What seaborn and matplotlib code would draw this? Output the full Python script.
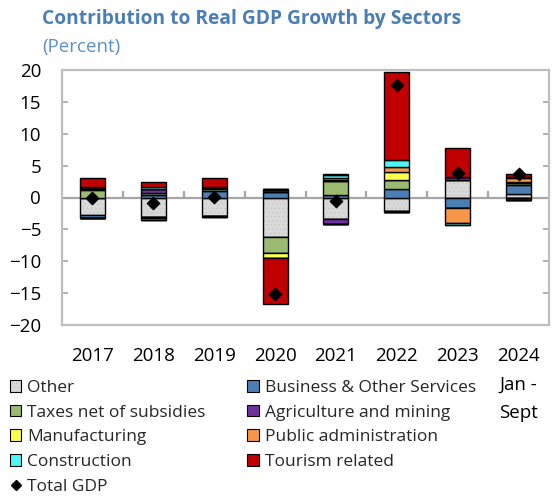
import numpy as np
import pandas as pd
import matplotlib
matplotlib.use("Agg")
import matplotlib.pyplot as plt
import matplotlib.patches as mpatches
import matplotlib.lines as mlines
import matplotlib.colors as mcolors
import seaborn as sns

years = ["2017", "2018", "2019", "2020", "2021", "2022", "2023", "2024"]
tick_labels = ["2017", "2018", "2019", "2020", "2021", "2022", "2023", "2024\nJan -\nSept"]

sectors = ["Other", "Business & Other Services", "Taxes net of subsidies",
           "Agriculture and mining", "Manufacturing", "Public administration",
           "Construction", "Tourism related"]

other    = [-2.7, -3.1, -2.9, -6.2, -3.4, -2.1, 2.7, 0.6]
business = [-0.5, 0.35, 1.0, 0.9, 0.4, 1.4, -1.7, 1.35]
taxes    = [1.25, 0.3, 0.4, -2.45, 2.2, 1.3, 0.0, 0.3]
agri     = [0.15, 0.75, 0.1, 0.35, -0.7, -0.1, 0.5, -0.35]
manuf    = [0.1, -0.15, 0.1, -0.8, 0.2, 1.3, 0.0, 0.2]
pubadm   = [0.0, -0.3, -0.1, 0.15, 0.3, 0.8, -2.3, 0.65]
constr   = [0.15, 0.2, 0.05, 0.0, 0.45, 1.05, -0.25, 0.05]
tourism  = [1.35, 0.8, 1.35, -7.2, 0.1, 13.8, 4.6, 0.6]
total_gdp = [-0.1, -0.9, 0.1, -15.2, -0.5, 17.6, 3.9, 3.7]

colors = ["#d9d9d9", "#4a7eb4", "#9bbb73", "#7030a0", "#ffff4d",
          "#f79646", "#4df5f5", "#c00000"]

series = [other, business, taxes, agri, manuf, pubadm, constr, tourism]

sns.set_theme(style="white")
plt.rcParams["font.family"] = ["Open Sans", "DejaVu Sans"]
plt.rcParams["hatch.linewidth"] = 0.4

fig = plt.figure(figsize=(5.52, 4.96), dpi=100)
ax = fig.add_axes([62 / 552, 1 - 325 / 496, (549 - 62) / 552, (325 - 70) / 496])

grid_gray = "#a6a6a6"
hatch_col = mcolors.to_rgba("#c4c4c4")
ax.axhline(0, color=grid_gray, lw=1.6, zorder=0.5)

pos_base = np.zeros(len(years))
neg_base = np.zeros(len(years))
for name, vals, col in zip(sectors, series, colors):
    v = np.array(vals, dtype=float)
    pos = np.clip(v, 0, None)
    neg = np.clip(v, None, 0)
    for h, b in ((pos, pos_base.copy()), (neg, neg_base.copy())):
        n_before = len(ax.patches)
        sns.barplot(x=years, y=h, bottom=b, order=years, color=col, saturation=1,
                    width=0.41, edgecolor="black", linewidth=1.0, errorbar=None,
                    ax=ax, zorder=2)
        if name == "Other":
            for p in ax.patches[n_before:]:
                p.set_hatch("....")
                p._hatch_color = hatch_col
    pos_base += pos
    neg_base += neg

sns.scatterplot(x=np.arange(len(years)), y=total_gdp, marker="D", s=45,
                color="black", edgecolor="black", linewidth=0.5, ax=ax,
                zorder=5, legend=False)

# category separator ticks on the zero line
ax.vlines(np.arange(len(years) - 1) + 0.5, 0, 0.95, color=grid_gray, lw=1.6, zorder=0.5)

ax.set_xlim(-0.5, len(years) - 0.5)
ax.set_ylim(-20, 20)
ax.set_yticks(np.arange(-20, 21, 5))
ax.set_xticks(np.arange(len(years)))
ax.set_xticklabels(tick_labels, linespacing=1.75)
ax.set_xlabel("")
ax.set_ylabel("")
ax.tick_params(axis="x", length=0, pad=16, labelsize=13.5, colors="black")
ax.tick_params(axis="y", direction="in", left=True, right=True, length=4.5,
               width=1.2, color=grid_gray, pad=15, labelsize=13.5, labelcolor="black")
for s in ax.spines.values():
    s.set_visible(True)
    s.set_color("#bfbfbf")
    s.set_linewidth(1.6)

title_col = "#4a7eb4"
fig.text(42 / 552, 1 - 19 / 496, "Contribution to Real GDP Growth by Sectors",
         fontsize=13.8, fontweight="bold", color=title_col, ha="left", va="center")
fig.text(42 / 552, 1 - 47 / 496, "(Percent)", fontsize=13.5, color="#5b8fc7",
         ha="left", va="center")

handles = [mpatches.Patch(facecolor=c, edgecolor="black", linewidth=0.8, label=n)
           for n, c in zip(sectors, colors)]
handles[0].set_hatch("....")
handles[0]._hatch_color = hatch_col
gdp_handle = mlines.Line2D([], [], color="black", marker="D", linestyle="none",
                           markersize=5.5, label="Total GDP")
col1 = [handles[i] for i in [0, 2, 4, 6]] + [gdp_handle]
col2 = [handles[i] for i in [1, 3, 5, 7]]
fig.legend(handles=col1 + col2, loc="upper left", ncol=2,
           bbox_to_anchor=(10 / 552, 1 - 380 / 496), frameon=False,
           borderpad=0, borderaxespad=0, handlelength=0.65, handleheight=0.65,
           handletextpad=0.35, columnspacing=2.4, labelspacing=0.5,
           fontsize=12.5)

fig.savefig("out.png", dpi=100)
